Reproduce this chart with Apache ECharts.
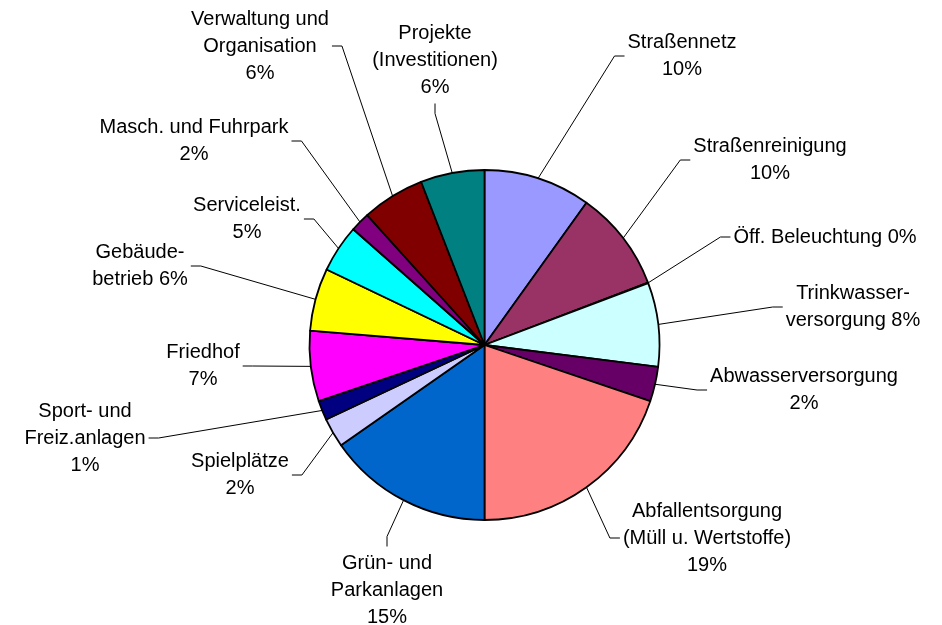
<!DOCTYPE html>
<html>
<head>
<meta charset="utf-8">
<script src="https://cdn.jsdelivr.net/npm/echarts@6/dist/echarts.min.js"></script>
<style>
    html, body { margin: 0; padding: 0; background: #fff; }
    #chart { width: 942px; height: 625px; }
</style>
</head>
<body>
<div id="chart"></div>
<script>
    // slice names as they wrap in the picture
    const categories = ['Straßennetz', 'Straßenreinigung', 'Öff. Beleuchtung', 'Trinkwasser-\nversorgung',
        'Abwasserversorgung', 'Abfallentsorgung\n(Müll u. Wertstoffe)', 'Grün- und\nParkanlagen', 'Spielplätze',
        'Sport- und\nFreiz.anlagen', 'Friedhof', 'Gebäude-\nbetrieb', 'Serviceleist.', 'Masch. und Fuhrpark',
        'Verwaltung und\nOrganisation', 'Projekte\n(Investitionen)'];
    // slice sizes measured from the angles
    const shares = [9.9, 9.3, 0.05, 7.75, 3.2, 19.8, 15.3, 2.7, 1.8, 6.5, 5.8, 4.4, 1.8, 5.8, 5.9];
    // percentages as printed on the labels
    const printedPct = [10, 10, 0, 8, 2, 19, 15, 2, 1, 7, 6, 5, 2, 6, 6];
    const pctOnSameLine = [false, false, true, true, false, false, false, false, false, false, true, false, false, false, false];
    const colors = ['#9999FF', '#993366', '#FFFFCC', '#CCFFFF', '#660066', '#FF8080', '#0066CC', '#CCCCFF',
        '#000080', '#FF00FF', '#FFFF00', '#00FFFF', '#800080', '#800000', '#008080'];

    // label block centre and the side where the leader line meets it
    const labelPos = [
        [682, 56, 'left'], [770, 160, 'left'], [825, 237, 'left'], [853, 307, 'left'],
        [804, 390, 'left'], [707, 538, 'left'], [387, 590, 'top'], [240, 475, 'right'],
        [85, 438, 'right'], [203, 366, 'right'], [140, 266, 'right'], [247, 219, 'right'],
        [194, 141, 'right'], [260, 46, 'right'], [435, 60, 'bottom']
    ];

    const chart = echarts.init(document.getElementById('chart'), null, {renderer: 'canvas'});

    const pieData = categories.map((name, i) => ({
        name: name,
        value: shares[i],
        itemStyle: {color: colors[i]}
    }));

    chart.setOption({
        animation: false,
        series: [
            {
                type: 'pie',
                center: [484.5, 345],
                radius: 175,
                startAngle: 90,
                clockwise: true,
                avoidLabelOverlap: false,
                itemStyle: {borderColor: '#000', borderWidth: 1.8},
                emphasis: {disabled: true},
                label: {
                    show: true,
                    position: 'outside',
                    overflow: 'none',
                    color: '#000',
                    fontFamily: '"Liberation Sans", Arial, sans-serif',
                    fontSize: 20,
                    lineHeight: 27,
                    formatter: p => categories[p.dataIndex] + (pctOnSameLine[p.dataIndex] ? ' ' : '\n') + printedPct[p.dataIndex] + '%'
                },
                labelLine: {
                    show: true,
                    length: 15,
                    length2: 10,
                    lineStyle: {color: '#000', width: 1}
                },
                labelLayout: function (p) {
                    const [cx, cy, side] = labelPos[p.dataIndex];
                    const w = p.labelRect.width, h = p.labelRect.height;
                    const start = p.labelLinePoints[0];
                    let end, bend;
                    if (side === 'left') {
                        end = [cx - w / 2 - 3, cy];
                        bend = [end[0] - 10, cy];
                    } else if (side === 'right') {
                        end = [cx + w / 2 + 3, cy];
                        bend = [end[0] + 10, cy];
                    } else if (side === 'top') {
                        end = [cx, cy - h / 2 - 3];
                        bend = [cx, end[1] - 10];
                    } else {
                        end = [cx, cy + h / 2 + 3];
                        bend = [cx, end[1] + 10];
                    }
                    return {
                        x: cx,
                        y: cy,
                        align: 'center',
                        verticalAlign: 'middle',
                        labelLinePoints: [start, bend, end]
                    };
                },
                data: pieData
            }
        ]
    });
</script>
</body>
</html>
